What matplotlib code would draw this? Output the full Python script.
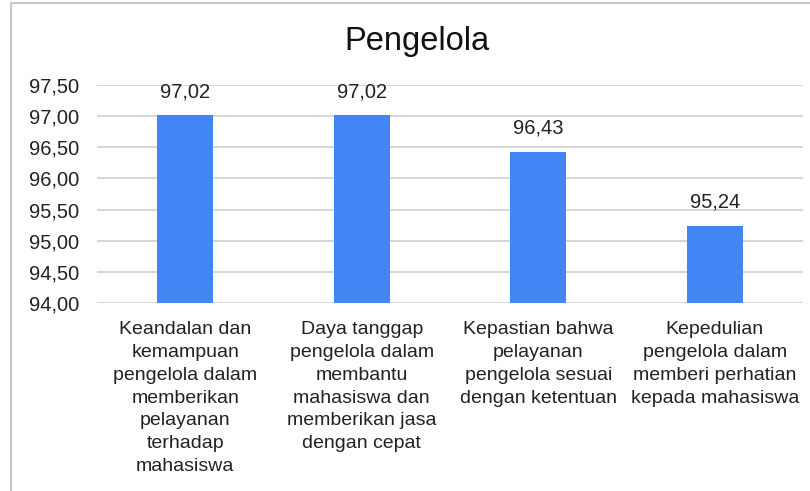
import matplotlib.pyplot as plt
from matplotlib.patches import Rectangle

plt.rcParams['font.family'] = ['Liberation Sans', 'DejaVu Sans']

kategori = [
    "Keandalan dan\nkemampuan\npengelola dalam\nmemberikan\npelayanan\nterhadap\nmahasiswa",
    "Daya tanggap\npengelola dalam\nmembantu\nmahasiswa dan\nmemberikan jasa\ndengan cepat",
    "Kepastian bahwa\npelayanan\npengelola sesuai\ndengan ketentuan",
    "Kepedulian\npengelola dalam\nmemberi perhatian\nkepada mahasiswa",
]
nilai = [97.02, 97.02, 96.43, 95.24]
yticks = [94.0, 94.5, 95.0, 95.5, 96.0, 96.5, 97.0, 97.5]

fig = plt.figure(figsize=(8.1, 4.91), dpi=100)
# area plot: x 97..803 px, y 85..303 px
ax = fig.add_axes([97 / 810, 1 - 303 / 491, 706 / 810, 218 / 491])

x = list(range(len(nilai)))
ax.bar(x, nilai, width=0.32, color='#4285f4', zorder=3)
ax.set_ylim(94, 97.5)
ax.set_xlim(-0.5, len(nilai) - 0.5)
ax.set_yticks(yticks)
ax.set_yticklabels([f"{v:.2f}".replace('.', ',') for v in yticks], fontsize=14.5,
                   color='#222222')
ax.set_xticks(x)
ax.set_xticklabels(kategori, fontsize=14, linespacing=1.45, va='top', color='#222222')
ax.tick_params(axis='y', length=0, pad=13)
ax.tick_params(axis='x', length=0, pad=13)
ax.grid(axis='y', color='#d6d6d6', linewidth=1.4, zorder=0)
for s in ax.spines.values():
    s.set_visible(False)

for xi, v in zip(x, nilai):
    ax.annotate(f"{v:.2f}".replace('.', ','), (xi, v), xytext=(0, 10),
                textcoords='offset points', ha='center', va='bottom',
                fontsize=14.5, color='#222222')

fig.text(0.515, 0.915, "Pengelola", ha='center', va='center', fontsize=23.5,
         color='#111111')

fig.patches.append(Rectangle((10.5 / 810, -0.01), 1.0, 1 - 3 / 491 + 0.01,
                             transform=fig.transFigure, fill=False,
                             edgecolor='#c8c8c8', linewidth=1.5))

fig.savefig('out.png', dpi=100)
